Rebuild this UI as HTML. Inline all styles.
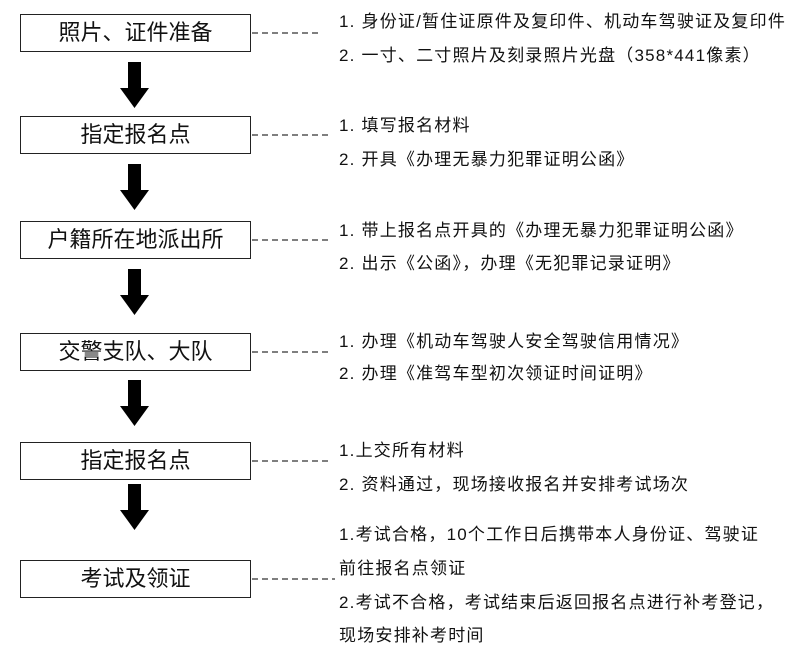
<!DOCTYPE html>
<html><head><meta charset="utf-8"><style>
body{margin:0;width:809px;height:652px;background:#fff;position:relative;overflow:hidden;font-family:"Liberation Sans","Noto Sans CJK SC",sans-serif;color:#111}
.b{position:absolute;left:20px;width:231px;height:38px;border:1.5px solid #222;box-sizing:border-box;font-size:22px;text-align:center;line-height:36px}
.t{position:absolute;left:339px;font-size:17px;letter-spacing:1.2px;white-space:nowrap}
</style></head><body>
<svg width="809" height="652" style="position:absolute;left:0;top:0">
<g fill="#000">
<g id="a"><rect x="128" y="62" width="13" height="28"/><polygon points="120,88 149,88 134.5,108"/></g>
<use href="#a" y="102"/><use href="#a" y="207"/><use href="#a" y="318"/><use href="#a" y="422"/>
</g>
<g stroke="#333" stroke-width="1.3" stroke-dasharray="6,4">
<line x1="252" y1="33" x2="318" y2="33"/><line x1="252" y1="135" x2="330" y2="135"/><line x1="252" y1="240" x2="330" y2="240"/><line x1="252" y1="352" x2="330" y2="352"/><line x1="252" y1="461" x2="330" y2="461"/><line x1="252" y1="579" x2="335" y2="579"/>
</g></svg>
<div class="b" style="top:14px">照片、证件准备</div>
<div class="b" style="top:116px">指定报名点</div>
<div class="b" style="top:221px">户籍所在地派出所</div>
<div class="b" style="top:333px">交警支队、大队</div>
<div class="b" style="top:442px">指定报名点</div>
<div class="b" style="top:560px">考试及领证</div>
<div class="t" style="top:7px">1. 身份证/暂住证原件及复印件、机动车驾驶证及复印件</div>
<div class="t" style="top:41px">2. 一寸、二寸照片及刻录照片光盘（358*441像素）</div>
<div class="t" style="top:111px">1. 填写报名材料</div>
<div class="t" style="top:145px">2. 开具《办理无暴力犯罪证明公函》</div>
<div class="t" style="top:216px">1. 带上报名点开具的《办理无暴力犯罪证明公函》</div>
<div class="t" style="top:249px">2. 出示《公函》，办理《无犯罪记录证明》</div>
<div class="t" style="top:327px">1. 办理《机动车驾驶人安全驾驶信用情况》</div>
<div class="t" style="top:359px">2. 办理《准驾车型初次领证时间证明》</div>
<div class="t" style="top:436px">1.上交所有材料</div>
<div class="t" style="top:470px">2. 资料通过，现场接收报名并安排考试场次</div>
<div class="t" style="top:520px">1.考试合格，10个工作日后携带本人身份证、驾驶证</div>
<div class="t" style="top:554px">前往报名点领证</div>
<div class="t" style="top:588px">2.考试不合格，考试结束后返回报名点进行补考登记，</div>
<div class="t" style="top:621px">现场安排补考时间</div>
</body></html>
